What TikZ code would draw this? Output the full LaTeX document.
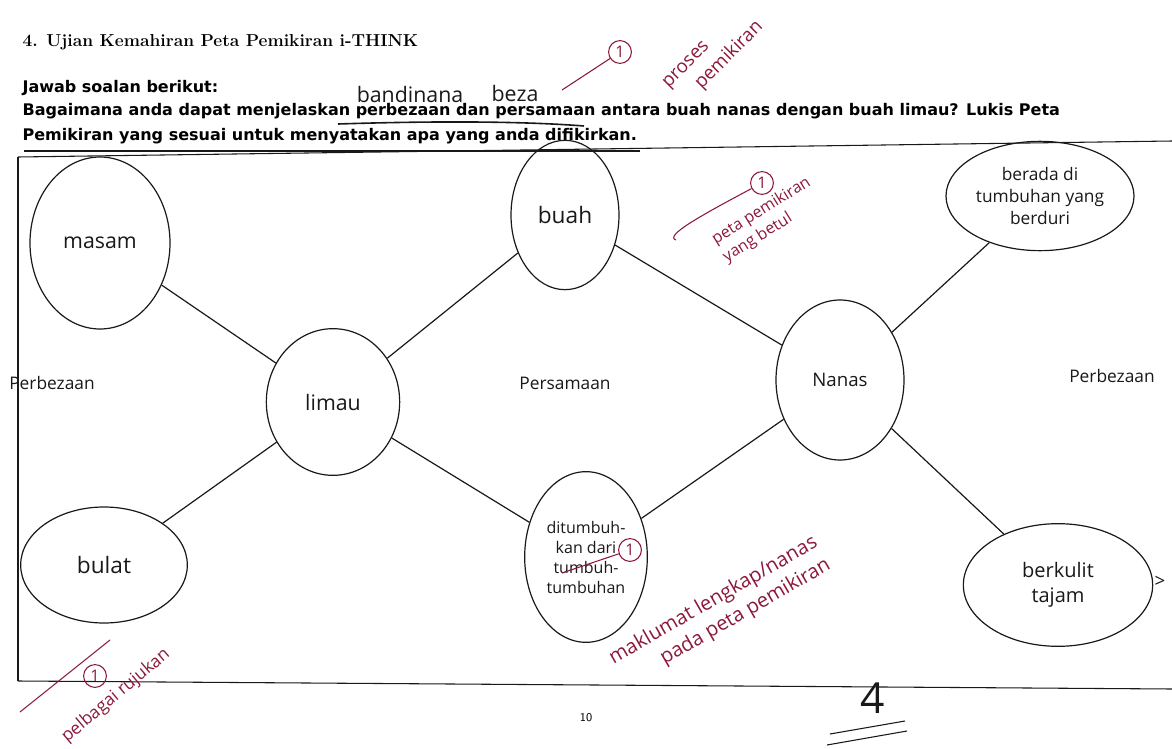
\documentclass[tikz,border=0pt]{standalone}
\usepackage{fontspec}
\usetikzlibrary{shapes.geometric}
\newfontfamily\qfont{DejaVu Sans}
\newfontfamily\hand{Open Sans}
\definecolor{ink}{RGB}{25,25,25}
\definecolor{marker}{RGB}{140,25,60}
\tikzset{
  qtext/.style={anchor=west, inner sep=0pt, font=\qfont\bfseries\fontsize{12}{13}\selectfont},
  hw/.style={font=\hand\linespread{1.25}\fontsize{#1}{#1}\selectfont, text=ink},
  redhw/.style={font=\hand\linespread{1.3}\fontsize{#1}{#1}\selectfont, text=marker, inner sep=0pt},
  ring/.style={circle, draw=marker, thick, inner sep=2.2pt, text=marker, font=\hand\fontsize{12}{12}\selectfont},
}
\begin{document}
\begin{tikzpicture}[x=0.75pt, y=-0.75pt, line width=0.9pt]
\useasboundingbox (0,0) rectangle (1172,749);
\fill[white] (0,0) rectangle (1172,749);
\node[anchor=west, inner sep=0pt, font=\bfseries\fontsize{13}{14}\selectfont] (title) at (22,42) {4. Ujian Kemahiran Peta Pemikiran i-THINK};
\node[qtext] (ask) at (22,88) {Jawab soalan berikut:};
\node[qtext] (q1) at (22,111) {Bagaimana anda dapat menjelaskan perbezaan dan persamaan antara buah nanas dengan buah limau? Lukis Peta};
\node[qtext] (q2) at (22,136) {Pemikiran yang sesuai untuk menyatakan apa yang anda difikirkan.};
\draw[ink] (24,151) -- (640,151);
\draw[ink, line width=1.2pt] (338,124) .. controls (430,121) and (520,121) .. (584,126);
\node[hw=16] (banding) at (410,95) {bandinana};
\node[hw=16] (beza) at (515,94) {beza};
\draw[ink, thick] (18,157) -- (1172,141);
\draw[ink, thick] (18,157) -- (18,681);
\draw[ink, thick] (18,681) -- (1172,689);
\begin{scope}[every node/.style={ellipse, draw=ink, inner sep=0pt, line width=0.9pt}]
\node[minimum width=105pt, minimum height=129pt, hw=16] (masam) at (100,243) {masam};
\node[minimum width=125pt, minimum height=87pt, hw=17] (bulat) at (104,565) {bulat};
\node[minimum width=100pt, minimum height=110pt, hw=16] (limau) at (333,402) {limau};
\node[minimum width=81pt, minimum height=112pt, hw=17] (buah) at (565,215) {buah};
\node[minimum width=92pt, minimum height=128pt, hw=12, align=center] (tumbuh) at (586,557) {ditumbuh-\\kan dari\\tumbuh-\\tumbuhan};
\node[minimum width=96pt, minimum height=120pt, hw=14] (nanas) at (840,380) {Nanas};
\node[minimum width=141pt, minimum height=82pt, hw=13, align=center] (berada) at (1040,196) {berada di\\tumbuhan yang\\berduri};
\node[minimum width=142pt, minimum height=92pt, hw=15, align=center] (berkulit) at (1058,585) {berkulit\\tajam};
\end{scope}
\begin{scope}[every edge/.style={draw=ink, line width=0.9pt}]
\path (masam) edge (limau);
\path (limau) edge (bulat);
\path (limau) edge (buah);
\path (limau) edge (tumbuh);
\path (buah) edge (nanas);
\path (tumbuh) edge (nanas);
\path (nanas) edge (berada);
\path (nanas) edge (berkulit);
\end{scope}
\node[hw=13] (beza1) at (52,383) {Perbezaan};
\node[hw=13] (sama) at (565,383) {Persamaan};
\node[hw=13] (beza2) at (1112,376) {Perbezaan};
\node[hw=14] (tick) at (1160,582) {>};
\node[ring] (r1) at (620,52) {1};
\draw[marker, thick] (562,90) -- (r1);
\node[redhw=14, rotate=45, align=left] (proses) at (714,56) {proses\\\hspace{1.2em}pemikiran};
\node[ring] (r2) at (762,183) {1};
\draw[marker, thick] (676,240) .. controls (664,236) and (700,216) .. (r2);
\node[redhw=12, rotate=32, align=left] (betul) at (767,220) {peta pemikiran\\yang betul};
\node[ring] (r3) at (630,550) {1};
\draw[marker, thick] (562,573) -- (r3);
\node[redhw=15, rotate=30, align=left] (lengkap) at (720,612) {maklumat lengkap/nanas\\\hspace{2.2em}pada peta pemikiran};
\node[ring] (r4) at (95,676) {1};
\draw[marker, thick] (20,712) -- (110,640);
\node[redhw=13, rotate=40] (rujukan) at (116,696) {pelbagai rujukan};
\node[font=\sffamily\fontsize{9}{10}\selectfont] (page) at (586,718) {10};
\node[hw=32] (mark) at (873,698) {4};
\draw[ink, thick] (830,734) -- (905,721);
\draw[ink, thick] (827,745) -- (907,731);
\end{tikzpicture}
\end{document}
